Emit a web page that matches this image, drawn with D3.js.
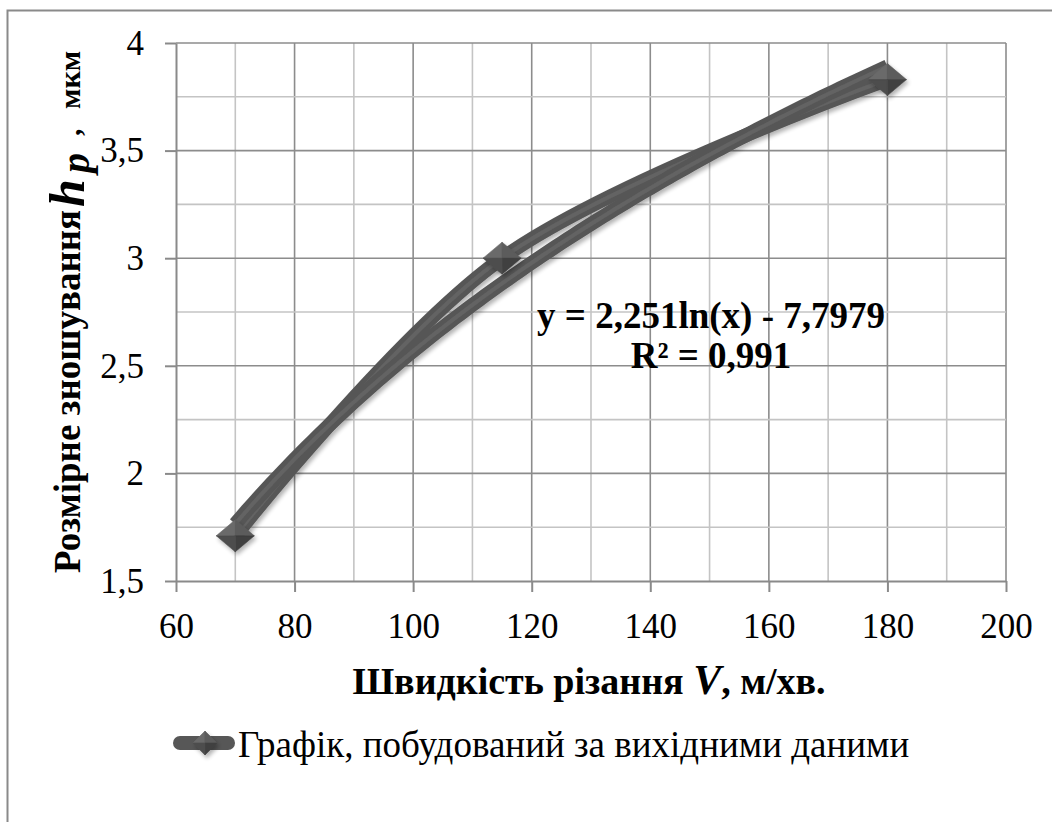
<!DOCTYPE html>
<html>
<head>
<meta charset="utf-8">
<script src="https://cdn.jsdelivr.net/npm/d3@7"></script>
</head>
<body style="margin:0">
<svg id="chart" width="1052" height="822"></svg>
<script>
// Measured points: cutting speed V (m/min) vs dimensional wear h_p (µm)
const speeds = [70, 115, 180];
const wear = [1.71, 3.0, 3.83];

// Logarithmic trend y = a·ln(x) + b, as printed on the chart
const trendCoef = [2.251, -7.7979];
const trendLabel = ["y = 2,251ln(x) - 7,7979", "R² = 0,991"];

const xTicks = [60, 80, 100, 120, 140, 160, 180, 200];
const yTicks = [1.5, 2, 2.5, 3, 3.5, 4];
const xGrid = [70, 80, 90, 100, 110, 120, 130, 140, 150, 160, 170, 180, 190, 200];
const yGrid = [1.75, 2, 2.25, 2.5, 2.75, 3, 3.25, 3.5, 3.75, 4];

const legendText = "Графік, побудований за вихідними даними";

const FONT = "Liberation Serif";
const svg = d3.select("#chart");
const W = 1052, H = 822;

const x = d3.scaleLinear().domain([60, 200]).range([176, 1006]);
const y = d3.scaleLinear().domain([1.5, 4]).range([581, 43]);

const defs = svg.append("defs");
const shadow = defs.append("filter").attr("id", "shade")
  .attr("x", "-30%").attr("y", "-30%").attr("width", "160%").attr("height", "160%");
shadow.append("feGaussianBlur").attr("in", "SourceAlpha").attr("stdDeviation", 2);
shadow.append("feOffset").attr("dx", 2).attr("dy", 3).attr("result", "off");
shadow.append("feComponentTransfer").append("feFuncA").attr("type", "linear").attr("slope", 0.3);
const merge = shadow.append("feMerge");
merge.append("feMergeNode");
merge.append("feMergeNode").attr("in", "SourceGraphic");

// Outer frame (left and top edges)
svg.append("path")
  .attr("d", `M7.5,${H} L7.5,10.5 L${W},10.5`)
  .attr("fill", "none").attr("stroke", "#8a8a8a").attr("stroke-width", 2);

// Grid: darker lines on labelled values, lighter in between
const grid = svg.append("g");
const isMajorX = v => v % 20 === 0;
const isMajorY = v => Math.abs(v * 2 - Math.round(v * 2)) < 1e-9;
grid.selectAll("line.vx").data(xGrid).join("line")
  .attr("x1", d => x(d)).attr("x2", d => x(d))
  .attr("y1", y(1.5)).attr("y2", y(4))
  .attr("stroke", d => isMajorX(d) ? "#8c8c8c" : "#c4c4c4")
  .attr("stroke-width", 1.6);
grid.selectAll("line.hy").data(yGrid).join("line")
  .attr("x1", x(60)).attr("x2", x(200))
  .attr("y1", d => y(d)).attr("y2", d => y(d))
  .attr("stroke", d => isMajorY(d) ? "#8c8c8c" : "#c4c4c4")
  .attr("stroke-width", 1.6);

const fmt = d => String(d).replace(".", ",");

// Axes
const yAxis = svg.append("g").attr("transform", `translate(${x(60)},0)`)
  .call(d3.axisLeft(y).tickValues(yTicks).tickSize(11).tickSizeOuter(0).tickPadding(21).tickFormat(fmt));
const xAxis = svg.append("g").attr("transform", `translate(0,${y(1.5)})`)
  .call(d3.axisBottom(x).tickValues(xTicks).tickSize(11).tickSizeOuter(0).tickPadding(21).tickFormat(fmt));
[yAxis, xAxis].forEach(g => {
  g.attr("font-family", null).attr("font-size", null);
  g.select(".domain").attr("stroke", "#8a8a8a").attr("stroke-width", 2);
  g.selectAll(".tick line").attr("stroke", "#8a8a8a").attr("stroke-width", 2);
  g.selectAll(".tick text").attr("fill", "#000")
    .attr("font-family", FONT).attr("font-size", 35);
});
xAxis.selectAll(".tick text").attr("dy", "0.71em");

// Trend line samples
const trendX = d3.range(speeds[0], speeds[speeds.length - 1] + 0.5, 1);
const trendPts = trendX.map(v => [v, trendCoef[0] * Math.log(v) + trendCoef[1]]);

const lineColor = "#575757";
const series = speeds.map((v, i) => [v, wear[i]]);

const smooth = d3.line().x(d => x(d[0])).y(d => y(d[1])).curve(d3.curveCatmullRom.alpha(0.5));
const straight = d3.line().x(d => x(d[0])).y(d => y(d[1]));

const lines = svg.append("g").attr("filter", "url(#shade)");
lines.append("path").datum(series).attr("d", smooth)
  .attr("fill", "none").attr("stroke", lineColor).attr("stroke-width", 14)
  .attr("stroke-linejoin", "round");
lines.append("path").datum(series).attr("d", smooth)
  .attr("fill", "none").attr("stroke", "#636363").attr("stroke-width", 4);
lines.append("path").datum(trendPts).attr("d", straight)
  .attr("fill", "none").attr("stroke", lineColor).attr("stroke-width", 14);
lines.append("path").datum(trendPts).attr("d", straight)
  .attr("fill", "none").attr("stroke", "#636363").attr("stroke-width", 4);

// Pyramid-shaded diamond marker
function diamond(g, cx, cy, rx, ry) {
  const top = [cx, cy - ry], right = [cx + rx, cy], bot = [cx, cy + ry], left = [cx - rx, cy];
  const c = [cx, cy];
  const faces = [
    [[left, top, c], "#6a6a6a"],
    [[top, right, c], "#5c5c5c"],
    [[right, bot, c], "#3f3f3f"],
    [[bot, left, c], "#4d4d4d"]
  ];
  const mg = g.append("g").attr("filter", "url(#shade)");
  faces.forEach(([pts, col]) => {
    mg.append("path").attr("d", "M" + pts.map(p => p.join(",")).join("L") + "Z")
      .attr("fill", col).attr("stroke", col).attr("stroke-width", 0.6);
  });
}
const markers = svg.append("g");
series.forEach(d => diamond(markers, x(d[0]), y(d[1]), 19, 16));

// Trend equation, two centred lines
[[trendLabel[0], 328], [trendLabel[1], 368]].forEach(([t, ty]) => {
  svg.append("text").attr("x", 711).attr("y", ty).attr("text-anchor", "middle")
    .attr("font-family", FONT).attr("font-weight", "bold").attr("font-size", 37)
    .attr("fill", "#000").text(t);
});

// Y axis title (rotated; along-text coordinate runs upward on screen)
const yt = svg.append("text")
  .attr("transform", "translate(80,0) rotate(-90)")
  .attr("font-family", FONT).attr("fill", "#000").attr("font-weight", "bold");
yt.append("tspan").attr("x", -573).attr("y", 0).attr("font-size", 37).text("Розмірне зношування");
yt.append("tspan").attr("x", -207).attr("y", 4).attr("font-size", 50).attr("font-style", "italic").text("h");
yt.append("tspan").attr("x", -173).attr("y", 9).attr("font-size", 40).attr("font-style", "italic").text("p");
yt.append("tspan").attr("x", -136).attr("y", 0).attr("font-size", 30).text(",");
yt.append("tspan").attr("x", -109).attr("y", 0).attr("font-size", 30).text("мкм");

// X axis title
const xt = svg.append("text").attr("x", 589).attr("y", 694)
  .attr("text-anchor", "middle").attr("fill", "#000").attr("font-family", FONT)
  .attr("font-weight", "bold").attr("font-size", 38);
xt.append("tspan").text("Швидкість різання ");
xt.append("tspan").attr("font-style", "italic").attr("font-size", 42).text("V");
xt.append("tspan").text(", м/хв.");

// Legend
const lg = svg.append("g");
lg.append("line").attr("x1", 180).attr("x2", 228).attr("y1", 743).attr("y2", 743)
  .attr("stroke", lineColor).attr("stroke-width", 14).attr("stroke-linecap", "round");
diamond(lg, 205, 743, 12, 12);
svg.append("text").attr("x", 238).attr("y", 757).attr("fill", "#000")
  .attr("font-family", FONT).attr("font-size", 37).text(legendText);
</script>
</body>
</html>
